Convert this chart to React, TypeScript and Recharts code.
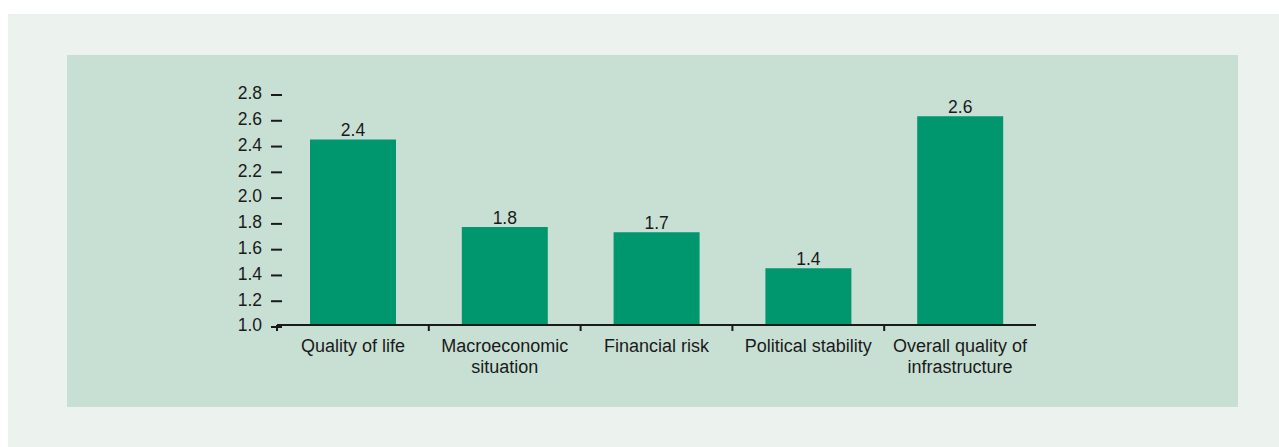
import { BarChart, Bar, XAxis, YAxis, LabelList } from 'recharts';

// Index scores per category
const CATEGORIES = [
    'Quality of life',
    'Macroeconomic\nsituation',
    'Financial risk',
    'Political stability',
    'Overall quality of\ninfrastructure',
];
const SCORES = [2.44, 1.76, 1.72, 1.44, 2.62];
const Y_TICKS = [1.0, 1.2, 1.4, 1.6, 1.8, 2.0, 2.2, 2.4, 2.6, 2.8];

const FONT = '"Liberation Sans", Arial, Helvetica, sans-serif';
const TEXT = '#1a1a1a';
const BAR = '#00966e';

const CHART_W = 1171;
const CHART_H = 352;
const MARGIN = { top: 38, right: 202, left: 150, bottom: 22 };
const Y_AXIS_W = 60;
const PLOT_W = CHART_W - MARGIN.left - Y_AXIS_W - MARGIN.right;
const BAND = PLOT_W / CATEGORIES.length;

const data = CATEGORIES.map((name, i) => ({ name, score: SCORES[i] }));

function YTick(props: any) {
    const { x, y, payload } = props;
    return (
        <g>
            <line x1={x - 6} x2={x + 5} y1={y + 2} y2={y + 2} stroke={TEXT} strokeWidth={2} />
            <text x={x - 15} y={y} dy="0.36em" textAnchor="end" fontSize={17.5} fontFamily={FONT} fill={TEXT}>
                {Number(payload.value).toFixed(1)}
            </text>
        </g>
    );
}

function XTick(props: any) {
    const { x, y, payload } = props;
    const lines = String(payload.value).split('\n');
    const left = x - BAND / 2;
    return (
        <g>
            <line x1={left} x2={left} y1={y} y2={y + 6} stroke={TEXT} strokeWidth={2} />
            <text textAnchor="middle" fontSize={18} fontFamily={FONT} fill={TEXT}>
                {lines.map((l, i) => (
                    <tspan key={i} x={x} y={y + 27 + i * 21}>{l}</tspan>
                ))}
            </text>
        </g>
    );
}

export default function App() {
    return (
        <div style={{ position: 'absolute', left: 8, top: 14, width: 1271, height: 433, background: '#ecf2ee' }}>
            <div style={{ position: 'absolute', left: 59, top: 41, width: CHART_W, height: CHART_H, background: '#c8e0d4' }}>
                <BarChart width={CHART_W} height={CHART_H} data={data} margin={MARGIN}>
                    <XAxis
                        dataKey="name"
                        interval={0}
                        height={60}
                        tickLine={false}
                        tickSize={0}
                        tickMargin={0}
                        axisLine={{ stroke: TEXT, strokeWidth: 2 }}
                        tick={<XTick />}
                    />
                    <YAxis
                        width={Y_AXIS_W}
                        domain={[1, 2.8]}
                        ticks={Y_TICKS}
                        axisLine={false}
                        tickLine={false}
                        tickSize={0}
                        tickMargin={0}
                        tick={<YTick />}
                    />
                    <Bar dataKey="score" fill={BAR} barSize={86} isAnimationActive={false}>
                        <LabelList
                            dataKey="score"
                            position="top"
                            offset={3}
                            formatter={(v: any) => Number(v).toFixed(1)}
                            style={{ fontSize: 17.5, fontFamily: FONT, fill: TEXT }}
                        />
                    </Bar>
                </BarChart>
            </div>
        </div>
    );
}
